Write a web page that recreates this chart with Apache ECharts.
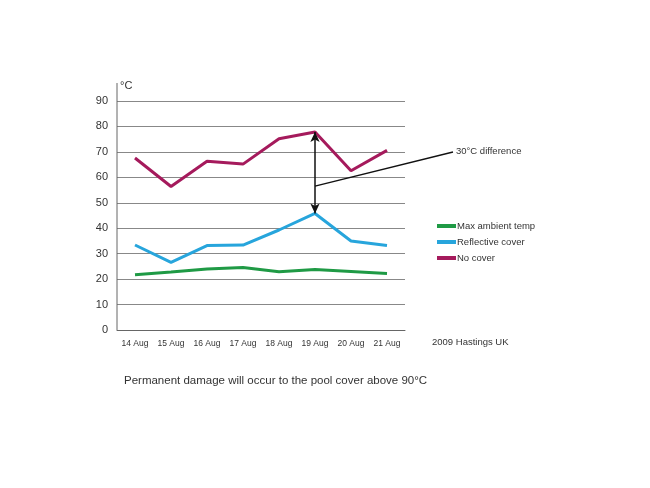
<!DOCTYPE html>
<html><head><meta charset="utf-8">
<script src="https://cdn.jsdelivr.net/npm/echarts@6/dist/echarts.min.js"></script>
<style>html,body{margin:0;padding:0;background:#fff}#c{width:650px;height:488px}</style>
</head><body><div id="c"></div>
<script>
var categories = ['14 Aug','15 Aug','16 Aug','17 Aug','18 Aug','19 Aug','20 Aug','21 Aug'];
var ambient = [21.7, 22.8, 24.0, 24.6, 22.9, 23.8, 23.0, 22.2];
var reflective = [33.4, 26.6, 33.2, 33.4, 39.3, 45.8, 35.0, 33.2];
var noCover = [67.6, 56.4, 66.3, 65.2, 75.2, 77.8, 62.6, 70.6];
var yTicks = [0,10,20,30,40,50,60,70,80,90];
var arrowCategory = '19 Aug';
var arrowTop = 77.8, arrowBottom = 45.8, arrowMid = 56.5;

var chart = echarts.init(document.getElementById('c'));
var font = 'Liberation Sans, Arial, sans-serif';
var option = {
  animation: false,
  backgroundColor: '#fff',
  textStyle: {fontFamily: font},
  grid: {left: 117, top: 101, width: 288, height: 229},
  legend: {
    orient: 'vertical', left: 432, top: 216, itemGap: 6,
    itemWidth: 19, itemHeight: 4, icon: 'rect',
    textStyle: {fontSize: 9.5, color: '#333', fontFamily: font, padding: [0,0,0,-4]},
    data: ['Max ambient temp','Reflective cover','No cover']
  },
  xAxis: {
    type: 'category', data: categories, boundaryGap: true,
    axisLine: {lineStyle: {color: '#666', width: 1}},
    axisTick: {show: false},
    axisLabel: {interval: 0, fontSize: 8.5, color: '#333', margin: 9}
  },
  yAxis: {
    type: 'value', min: yTicks[0], max: yTicks[yTicks.length-1], interval: 10,
    axisLine: {show: false},
    axisTick: {show: false},
    axisLabel: {fontSize: 11, color: '#333', margin: 9},
    splitLine: {lineStyle: {color: '#888', width: 1}}
  },
  series: [
    {name: 'Max ambient temp', type: 'line', data: ambient, symbol: 'none',
     lineStyle: {color: '#1f9a45', width: 3}, itemStyle: {color: '#1f9a45'}},
    {name: 'Reflective cover', type: 'line', data: reflective, symbol: 'none',
     lineStyle: {color: '#27a5dc', width: 3}, itemStyle: {color: '#27a5dc'}},
    {name: 'No cover', type: 'line', data: noCover, symbol: 'none',
     lineStyle: {color: '#a51a5c', width: 3}, itemStyle: {color: '#a51a5c'},
     markLine: {
       silent: true, symbol: ['arrow','arrow'], symbolSize: [7, 10],
       label: {show: false},
       lineStyle: {color: '#111', width: 1.5, type: 'solid'},
       data: [[{coord: [arrowCategory, arrowTop]}, {coord: [arrowCategory, arrowBottom]}]]
     }}
  ]
};
chart.setOption(option);

var yAxisTop = chart.convertToPixel({gridIndex: 0}, [0, yTicks[yTicks.length-1]]);
var zero = chart.convertToPixel({gridIndex: 0}, [0, 0]);
var mid = chart.convertToPixel({gridIndex: 0}, [categories.indexOf(arrowCategory), arrowMid]);
var axisX = 117;
chart.setOption({
  graphic: [
    {type: 'line', shape: {x1: axisX, y1: yAxisTop[1] - 18, x2: axisX, y2: zero[1]},
     style: {stroke: '#666', lineWidth: 1}},
    {type: 'text', left: axisX + 3, top: yAxisTop[1] - 21,
     style: {text: '°C', fontSize: 11, fill: '#333', fontFamily: font}},
    {type: 'line', shape: {x1: mid[0], y1: mid[1], x2: 453, y2: 152},
     style: {stroke: '#111', lineWidth: 1.3}},
    {type: 'text', left: 456, top: 146,
     style: {text: '30°C difference', fontSize: 9.5, fill: '#333', fontFamily: font}},
    {type: 'text', left: 432, top: 337,
     style: {text: '2009 Hastings UK', fontSize: 9.5, fill: '#333', fontFamily: font}},
    {type: 'text', left: 124, top: 375,
     style: {text: 'Permanent damage will occur to the pool cover above 90°C', fontSize: 11.5, fill: '#333', fontFamily: font}}
  ]
});
</script></body></html>
